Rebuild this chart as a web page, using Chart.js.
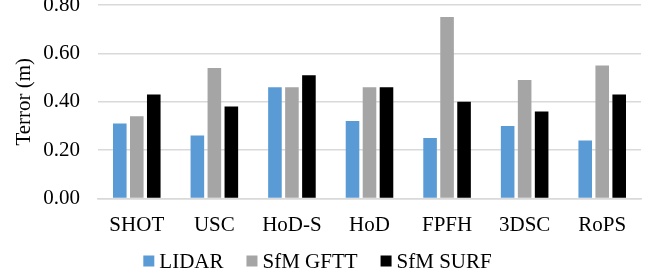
<!DOCTYPE html>
<html>
<head>
<meta charset="utf-8">
<script src="https://cdn.jsdelivr.net/npm/chart.js@4/dist/chart.umd.min.js"></script>
<style>
  html, body { margin: 0; padding: 0; background: #fff; }
  #wrap { position: relative; width: 663px; height: 275px; }
</style>
</head>
<body>
<div id="wrap"><canvas id="c" width="663" height="275"></canvas></div>
<script>
const categories = ["SHOT", "USC", "HoD-S", "HoD", "FPFH", "3DSC", "RoPS"];
const lidar    = [0.31, 0.26, 0.46, 0.32, 0.25, 0.30, 0.24];
const sfmGftt  = [0.34, 0.54, 0.46, 0.46, 0.75, 0.49, 0.55];
const sfmSurf  = [0.43, 0.38, 0.51, 0.46, 0.40, 0.36, 0.43];
const seriesNames = ["LIDAR", "SfM GFTT", "SfM SURF"];
const yTicks = [0, 0.2, 0.4, 0.6, 0.8];
const yTitle = "Terror (m)";

const FONT = "'Liberation Serif', 'Times New Roman', serif";
const colors = ["#5B9BD5", "#A5A5A5", "#000000"];

const legendPlugin = {
  id: 'customLegend',
  afterDraw(chart) {
    const ctx = chart.ctx;
    ctx.save();
    ctx.font = "21px " + FONT;
    ctx.textBaseline = 'middle';
    ctx.textAlign = 'left';
    const box = 11, gapText = 5, gapItem = 23;
    const items = chart.data.datasets.map(d => ({ text: d.label, color: d.backgroundColor, w: ctx.measureText(d.label).width }));
    let total = 0;
    items.forEach((it, i) => { total += box + gapText + it.w + (i < items.length - 1 ? gapItem : 0); });
    let x = (chart.width - total) / 2 - 14;
    const yc = 261;
    items.forEach(it => {
      ctx.fillStyle = it.color;
      ctx.fillRect(x, yc - box / 2, box, box);
      x += box + gapText;
      ctx.fillStyle = '#000';
      ctx.fillText(it.text, x, yc + 1);
      x += it.w + gapItem;
    });
    ctx.restore();
  }
};

new Chart(document.getElementById('c'), {
  type: 'bar',
  data: {
    labels: categories,
    datasets: [
      { label: seriesNames[0], data: lidar,   backgroundColor: colors[0] },
      { label: seriesNames[1], data: sfmGftt, backgroundColor: colors[1] },
      { label: seriesNames[2], data: sfmSurf, backgroundColor: colors[2] }
    ]
  },
  options: {
    responsive: false,
    animation: false,
    devicePixelRatio: 1,
    layout: { padding: { top: 5, right: 22, bottom: 30, left: 0 } },
    datasets: { bar: { categoryPercentage: 0.657, barPercentage: 0.8 } },
    plugins: { legend: { display: false }, tooltip: { enabled: false } },
    scales: {
      x: {
        grid: { display: false, drawTicks: false },
        border: { display: true, color: '#D9D9D9', width: 1.5 },
        ticks: { color: '#000', font: { family: FONT, size: 21 }, padding: 14, maxRotation: 0, autoSkip: false },
        afterFit(s) { s.height = 275 - 30 - 198.5; s.paddingLeft = 0; s.paddingRight = 0; }
      },
      y: {
        min: 0, max: 0.8,
        afterBuildTicks(s) { s.ticks = yTicks.map(v => ({ value: v })); },
        grid: { color: '#D9D9D9', lineWidth: 1.5, drawTicks: false },
        border: { display: false },
        ticks: { color: '#000', font: { family: FONT, size: 21 }, padding: 18, callback: v => v.toFixed(2) },
        title: { display: true, text: yTitle, color: '#000', font: { family: FONT, size: 21 }, padding: { top: 12, bottom: 0 } },
        afterFit(s) { s.width = 98; s.paddingTop = 0; s.paddingBottom = 0; }
      }
    }
  },
  plugins: [legendPlugin]
});
</script>
</body>
</html>
